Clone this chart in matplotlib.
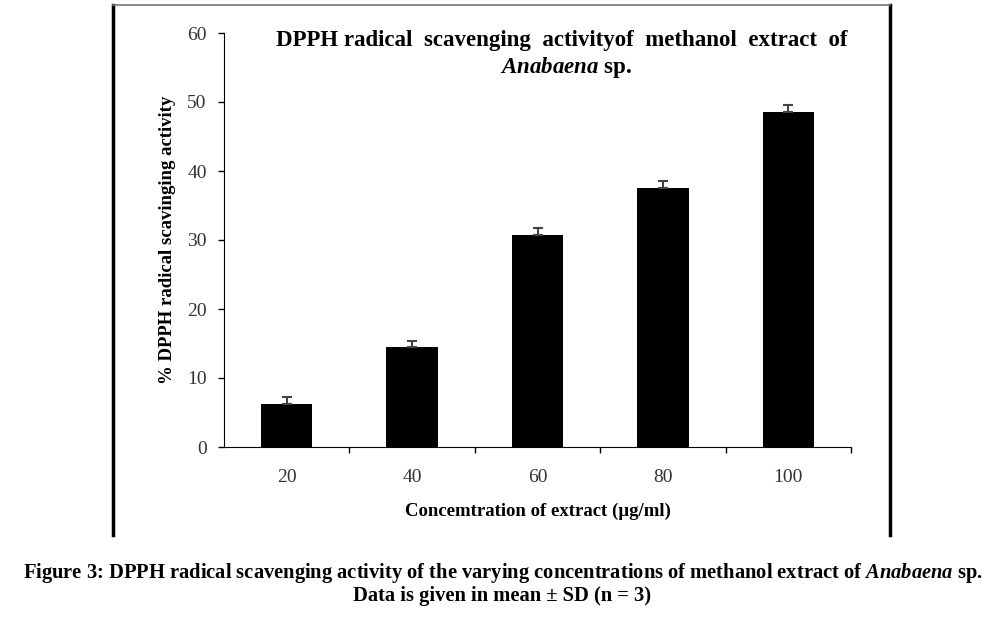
import matplotlib
matplotlib.use('Agg')
import matplotlib.pyplot as plt
import numpy as np

# datos
concentraciones = ['20', '40', '60', '80', '100']
actividad = [6.2, 14.5, 30.7, 37.5, 48.5]
desvio = [1.0, 0.9, 1.0, 1.0, 1.05]

plt.rcParams['font.family'] = ['Liberation Serif', 'DejaVu Serif']
plt.rcParams['mathtext.fontset'] = 'custom'
plt.rcParams['mathtext.rm'] = 'Liberation Serif'
plt.rcParams['mathtext.it'] = 'Liberation Serif:italic'
plt.rcParams['mathtext.bf'] = 'Liberation Serif:bold'
plt.rcParams['mathtext.bfit'] = 'Liberation Serif:italic:bold'

fig = plt.figure(figsize=(10.05, 6.24), dpi=100)
ax = fig.add_axes([224/1005, 1-447/624, (851-224)/1005, (447-33)/624])

x = np.arange(len(concentraciones))
ax.bar(x, actividad, width=0.41, color='black')
ax.errorbar(x, actividad, yerr=[np.zeros(len(desvio)), desvio], fmt='none',
            ecolor='#444444', elinewidth=1.5, capsize=3.5, capthick=1.5)

ax.set_xlim(-0.5, len(concentraciones) - 0.5)
ax.set_ylim(0, 60)
ax.set_yticks(range(0, 61, 10))
ax.set_xticks(x)
ax.set_xticklabels(concentraciones)
ax.set_xticks(np.arange(0.5, len(concentraciones), 1), minor=True)
ax.tick_params(axis='x', which='major', length=0, pad=16, labelsize=14, labelcolor='#333333')
ax.tick_params(axis='x', which='minor', length=4.5, direction='out', width=1)
ax.tick_params(axis='y', length=4.5, width=1, pad=8, labelsize=14, labelcolor='#333333')

ax.spines['top'].set_visible(False)
ax.spines['right'].set_visible(False)

ax.set_xlabel('Concemtration of extract (µg/ml)', fontsize=13.5, fontweight='bold', labelpad=12)
ax.set_ylabel('% DPPH radical scavinging activity', fontsize=13.5, fontweight='bold', labelpad=8)

ax.text(0.538, 1.007, 'DPPH radical  scavenging  activityof  methanol  extract  of',
        transform=ax.transAxes, ha='center', va='top', fontsize=16.5, fontweight='bold')
ax.text(0.545, 0.948, r'$\mathbfit{Anabaena}$ sp.', transform=ax.transAxes,
        ha='center', va='top', fontsize=16.5, fontweight='bold')

# marco exterior
fig.add_artist(plt.Line2D([113/1005, 113/1005], [1-5/624, 1-535/624], color='black', lw=2.5))
fig.add_artist(plt.Line2D([890/1005, 890/1005], [1-5/624, 1-535/624], color='black', lw=2.5))
fig.add_artist(plt.Line2D([113/1005, 890/1005], [1-5/624, 1-5/624], color='#777777', lw=1.2))

fig.text(0.5, 1-573/624, 'Figure 3: DPPH radical scavenging activity of the varying concentrations of methanol extract of $\\mathbfit{Anabaena}$ sp.',
         ha='center', va='center', fontsize=14.8, fontweight='bold')
fig.text(0.5, 1-596/624, 'Data is given in mean ± SD (n = 3)',
         ha='center', va='center', fontsize=14.8, fontweight='bold')

plt.savefig('out.png', dpi=100)
